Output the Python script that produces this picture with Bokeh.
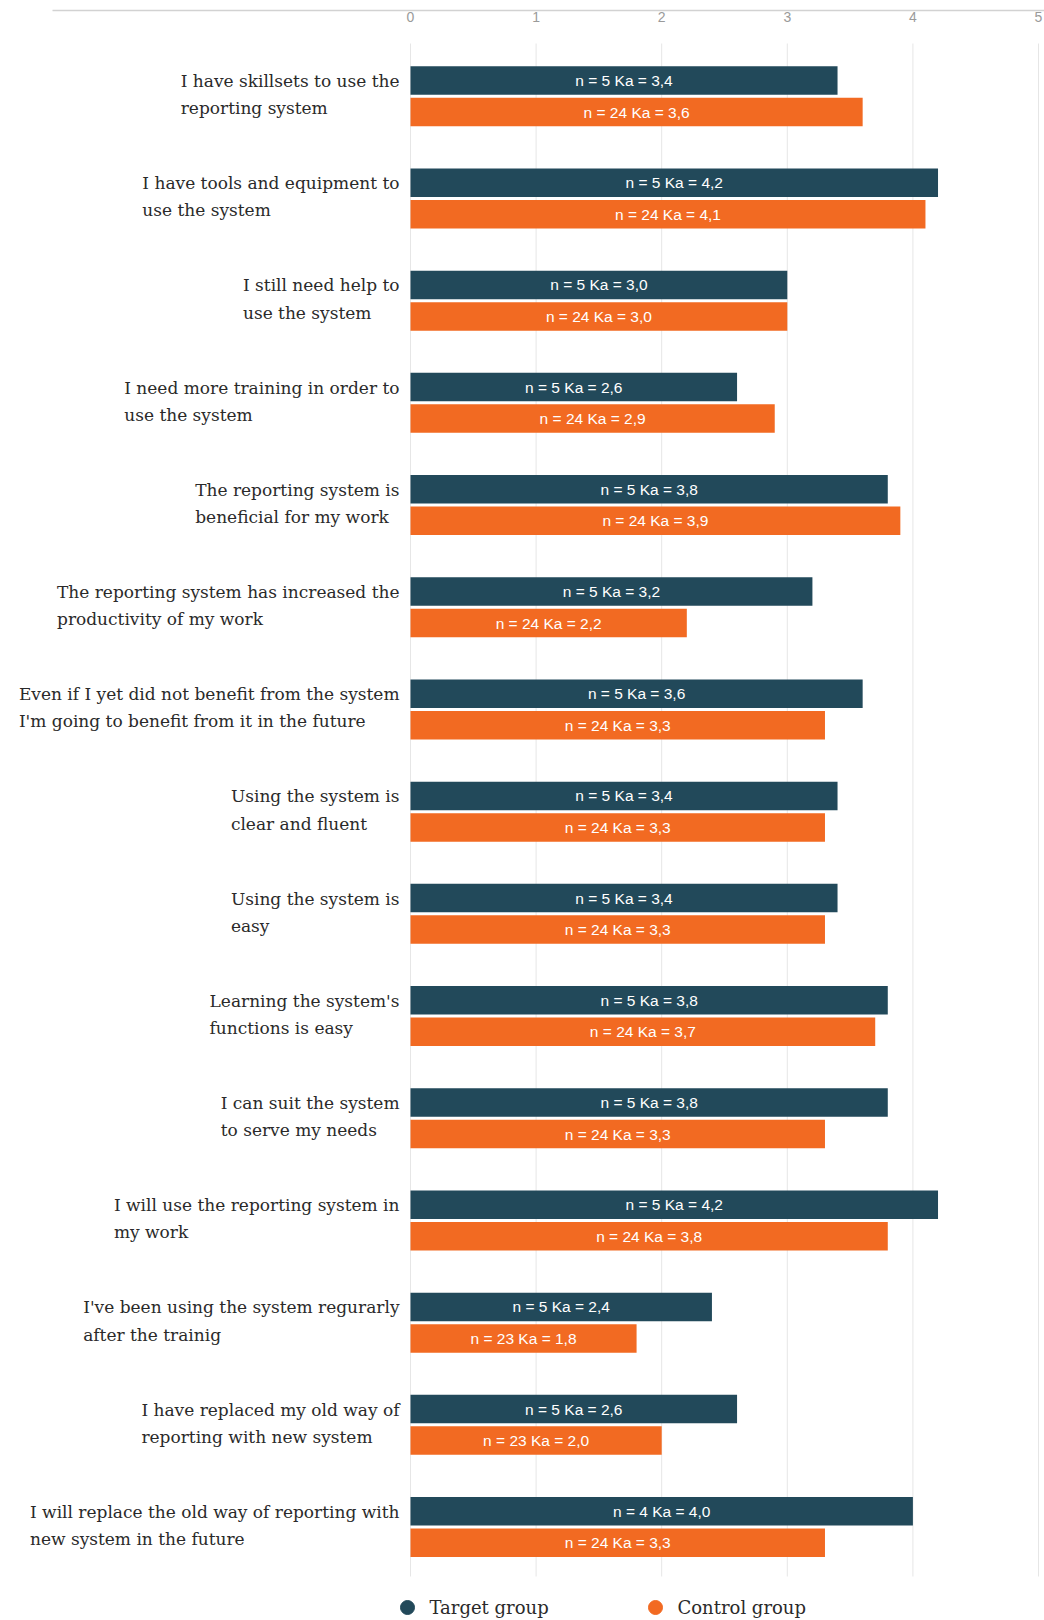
from bokeh.plotting import figure
from bokeh.models import Range1d, ColumnDataSource
from bokeh.core.properties import value
from bokeh.embed import file_html
from bokeh.resources import INLINE

# ---------------- data ----------------
statements = [
    "I have skillsets to use the\nreporting system",
    "I have tools and equipment to\nuse the system",
    "I still need help to\nuse the system",
    "I need more training in order to\nuse the system",
    "The reporting system is\nbeneficial for my work",
    "The reporting system has increased the\nproductivity of my work",
    "Even if I yet did not benefit from the system\nI'm going to benefit from it in the future",
    "Using the system is\nclear and fluent",
    "Using the system is\neasy",
    "Learning the system's\nfunctions is easy",
    "I can suit the system\nto serve my needs",
    "I will use the reporting system in\nmy work",
    "I've been using the system regurarly\nafter the trainig",
    "I have replaced my old way of\nreporting with new system",
    "I will replace the old way of reporting with\nnew system in the future",
]
target_ka = [3.4, 4.2, 3.0, 2.6, 3.8, 3.2, 3.6, 3.4, 3.4, 3.8, 3.8, 4.2, 2.4, 2.6, 4.0]
control_ka = [3.6, 4.1, 3.0, 2.9, 3.9, 2.2, 3.3, 3.3, 3.3, 3.7, 3.3, 3.8, 1.8, 2.0, 3.3]
target_n = [5, 5, 5, 5, 5, 5, 5, 5, 5, 5, 5, 5, 5, 5, 4]
control_n = [24, 24, 24, 24, 24, 24, 24, 24, 24, 24, 24, 24, 23, 23, 24]
x_ticks = [0, 1, 2, 3, 4, 5]
series_names = ["Target group", "Control group"]

# ---------------- layout helpers ----------------
W, H = 1044, 1620
X0, UX = 410.0, 125.6      # pixel of x=0, pixels per unit
Y0, UY = 94.1, 102.2       # pixel of first category centre, pixels per category

def px_x(px):
    return (px - X0) / UX

def px_y(py):
    return (py - Y0) / UY

TARGET = "#22495a"
CONTROL = "#f26a22"
SERIF = value("DejaVu Serif")

p = figure(width=W, height=H, output_backend="svg", toolbar_location=None,
           x_range=Range1d(px_x(0), px_x(W)), y_range=Range1d(px_y(H), px_y(0)),
           x_axis_location=None, y_axis_location=None, min_border=0)
p.grid.visible = False
p.outline_line_color = None
p.background_fill_color = "white"
p.border_fill_color = "white"

idx = list(range(len(statements)))
off_t, off_c, bh = px_y(80), px_y(111.5), 28.5 / UY

def fmt(n, v):
    return ("n = %d Ka = %.1f" % (n, v)).replace(".", ",")

src_t = ColumnDataSource(dict(
    y=[i + off_t for i in idx], right=target_ka, mid=[v / 2 for v in target_ka],
    lab=[fmt(n, v) for n, v in zip(target_n, target_ka)]))
src_c = ColumnDataSource(dict(
    y=[i + off_c for i in idx], right=control_ka, mid=[v / 2 for v in control_ka],
    lab=[fmt(n, v) for n, v in zip(control_n, control_ka)]))

# grid lines
p.segment(x0=x_ticks, x1=x_ticks, y0=[-0.5] * len(x_ticks), y1=[len(statements) - 0.5] * len(x_ticks),
          line_color="#e6e6e6", line_width=1)
# top axis line and tick labels
p.segment(x0=[px_x(52)], x1=[px_x(W)], y0=[px_y(10)], y1=[px_y(10)],
          line_color="#d2d2d2", line_width=1.5)
p.text(x=x_ticks, y=[px_y(16)] * len(x_ticks), text=[str(t) for t in x_ticks],
       text_align="center", text_baseline="middle", text_font=value("Liberation Sans"),
       text_font_size="14px", text_color="#9a9a9a")

# bars
p.hbar(y="y", left=0, right="right", height=bh, source=src_t, fill_color=TARGET, line_color=None)
p.hbar(y="y", left=0, right="right", height=bh, source=src_c, fill_color=CONTROL, line_color=None)

for s in (src_t, src_c):
    p.text(x="mid", y="y", text="lab", source=s, text_align="center", text_baseline="middle",
           text_font=value("Liberation Sans"), text_font_size="15.5px", text_color="white")

# category labels: block right-aligned, lines left-aligned
p.text(x=[px_x(399)] * len(statements), y=idx, text=statements,
       text_align="left", anchor="center_right", text_baseline="middle",
       text_font=SERIF, text_font_size="17px", text_color="#2a2a2a",
       text_line_height=1.37)

# legend (markers + labels)
leg_x = [407, 655]
p.scatter(x=[px_x(v) for v in leg_x], y=[px_y(1607)] * 2, marker="circle", size=14,
          fill_color=[TARGET, CONTROL], line_color=[TARGET, CONTROL])
p.text(x=[px_x(v + 22) for v in leg_x], y=[px_y(1607)] * 2, text=series_names,
       text_align="left", text_baseline="middle", text_font=SERIF, text_font_size="18px",
       text_color="#2a2a2a")

open("out.html", "w").write(file_html(p, INLINE))
